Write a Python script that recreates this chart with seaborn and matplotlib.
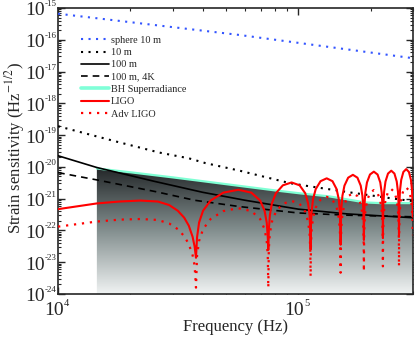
import numpy as np
import pandas as pd
import seaborn as sns
import matplotlib
matplotlib.use("Agg")
import matplotlib.pyplot as plt
from matplotlib.colors import LinearSegmentedColormap
from matplotlib.lines import Line2D
from matplotlib.ticker import LogLocator, NullFormatter

# frequencies in kHz, strain values as log10(h)
sphere_f = [10, 57, 300]
sphere_h = [-15.18, -15.85, -16.58]

ten_m_f = [10, 17.4, 26.4, 35, 41, 57, 92, 109, 163, 239, 300]
ten_m_h = [-18.72, -19.2, -19.55, -19.73, -19.88, -20.12, -20.51, -20.6, -20.8, -20.98, -21.08]

hundred_f = [10, 14.5, 25, 40, 60, 100, 160, 300]
hundred_h = [-19.65, -20.02, -20.45, -20.8, -21.05, -21.33, -21.48, -21.6]

cold_f = [10, 14.5, 25.5, 37, 57, 100, 160, 300]
cold_h = [-20.18, -20.41, -20.78, -21.05, -21.25, -21.45, -21.52, -21.57]

bh_f = [14.5, 20, 30, 41, 60, 80, 101, 135, 165, 190, 220, 300]
bh_h = [-20.05, -20.17, -20.33, -20.46, -20.62, -20.74, -20.83, -20.93, -21.04, -21.12, -21.14, -21.14]

# LIGO: first arch read directly, later arches from dip positions / peak / floor
ligo_first_f = [10, 14.5, 18, 22, 26, 29, 31.5, 33.5, 35, 36.3, 37]
ligo_first_h = [-21.33, -21.15, -21.09, -21.06, -21.09, -21.2, -21.38, -21.6, -21.85, -22.2, -22.5]
adv_first_h = [-21.88, -21.72, -21.66, -21.64, -21.67, -21.78, -21.96, -22.18, -22.43, -22.78, -23.1]

fsr_khz = 37.5
dip_khz = [37.5, 75, 112.5, 150, 187.5, 225, 262.5]
ligo_peak = [-20.72, -20.49, -20.36, -20.25, -20.15, -20.12, -20.07]
ligo_floor = [-22.86, -22.61, -22.6, -22.45, -22.3, -22.24, -22.19]
adv_peak = [-21.3, -21.07, -20.94, -20.83, -20.73, -20.7, -20.65]
adv_floor = [-23.8, -23.8, -23.45, -23.33, -23.29, -23.13, -23.13]
arch_t = [0.01, 0.03, 0.07, 0.15, 0.3, 0.5, 0.7, 0.85, 0.93, 0.97, 0.99]
arch_drop = [-1.5, -1.03, -0.66, -0.34, -0.09, 0, -0.09, -0.34, -0.66, -1.03, -1.5]

y_exps = list(range(-24, -14))
x_exps = [4, 5]


def build(first_f, first_h, peaks, floors):
    f = list(first_f)
    h = list(first_h)
    for d, p, fl in zip(dip_khz, peaks, floors):
        f.append(d)
        h.append(fl)
        for t, dr in zip(arch_t, arch_drop):
            f.append(d + t * fsr_khz)
            h.append(p + dr)
    return pd.DataFrame({"f": np.array(f) * 1e3, "h": 10 ** np.array(h)})


def frame(f, h):
    return pd.DataFrame({"f": np.array(f) * 1e3, "h": 10 ** np.array(h)})


sns.set_style("ticks")
plt.rcParams["font.family"] = ["Liberation Serif", "DejaVu Serif"]
plt.rcParams["mathtext.fontset"] = "stix"
plt.rcParams["xtick.direction"] = "in"
plt.rcParams["ytick.direction"] = "in"

fig = plt.figure(figsize=(4.15, 3.37), dpi=100)
ax = fig.add_axes([0.140, 0.1276, 0.855, 0.8487])
ax.set_xscale("log")
ax.set_yscale("log")
ax.set_xlim(1e4, 3e5)
ax.set_ylim(1e-24, 1e-15)
ax.set_autoscale_on(False)

# shaded region under the BH superradiance curve
cmap = LinearSegmentedColormap.from_list("shade", ["#f0f3f3", "#7f8b8b", "#1b1e20"])
grad = np.linspace(0, 1, 256).reshape(-1, 1)
im = ax.imshow(grad, extent=[0, 1, 0, 0.46], transform=ax.transAxes,
               aspect="auto", cmap=cmap, origin="lower", zorder=1)
bh = frame(bh_f, bh_h)
poly = ax.fill_between(bh["f"], bh["h"], 1e-25, facecolor="none", edgecolor="none")
im.set_clip_path(poly.get_paths()[0], transform=poly.get_transform())

sns.lineplot(data=bh, x="f", y="h", ax=ax, color="#7fffd4", lw=1.6, zorder=2)
sns.lineplot(data=frame(sphere_f, sphere_h), x="f", y="h", ax=ax, color="#3355ff", lw=1.5,
             linestyle=(0, (1, 2.6)), label="sphere 10 m", zorder=3)
sns.lineplot(data=frame(ten_m_f, ten_m_h), x="f", y="h", ax=ax, color="black", lw=1.5,
             linestyle=(0, (1, 2.6)), label="10 m", zorder=3)
sns.lineplot(data=frame(hundred_f, hundred_h), x="f", y="h", ax=ax, color="black", lw=1.2,
             label="100 m", zorder=3)
sns.lineplot(data=frame(cold_f, cold_h), x="f", y="h", ax=ax, color="black", lw=1.2,
             linestyle=(0, (4, 3)), label="100 m, 4K", zorder=3)
sns.lineplot(data=build(ligo_first_f, ligo_first_h, ligo_peak, ligo_floor), x="f", y="h", ax=ax,
             color="red", lw=1.5, sort=False, estimator=None, label="LIGO", zorder=4)
sns.lineplot(data=build(ligo_first_f, adv_first_h, adv_peak, adv_floor), x="f", y="h", ax=ax,
             color="red", lw=1.6, linestyle=(0, (1, 2.6)), sort=False, estimator=None,
             label="Adv LIGO", zorder=4)

handles, labels = ax.get_legend_handles_labels()
hmap = dict(zip(labels, handles))
hmap["BH Superradiance"] = Line2D([], [], color="#80ffd8", lw=2.6)
order = ["sphere 10 m", "10 m", "100 m", "100 m, 4K", "BH Superradiance", "LIGO", "Adv LIGO"]
ax.legend([hmap[k] for k in order], order, loc="upper left", bbox_to_anchor=(0.064, 0.903),
          frameon=False, fontsize=7.4, labelspacing=0.3, handlelength=2.7, handletextpad=0.2,
          borderpad=0, borderaxespad=0)

ax.xaxis.set_minor_locator(LogLocator(base=10, subs=np.arange(2, 10), numticks=100))
ax.yaxis.set_major_locator(LogLocator(base=10, numticks=20))
ax.yaxis.set_minor_locator(LogLocator(base=10, subs=np.arange(2, 10), numticks=100))
ax.yaxis.set_minor_formatter(NullFormatter())
ax.xaxis.set_minor_formatter(NullFormatter())
ax.tick_params(which="both", top=True, right=True, labelleft=False, labelbottom=False)
ax.tick_params(which="major", length=5, width=1)
ax.tick_params(which="minor", length=2.5, width=0.8)
for s in ax.spines.values():
    s.set_linewidth(1.2)

# power-of-ten tick labels with a small exponent, as in the original
ytr = ax.get_yaxis_transform()
for e in y_exps:
    ax.annotate("10", xy=(0, 10.0 ** e), xycoords=ytr, xytext=(-13, -3),
                textcoords="offset pixels", ha="right", va="center", fontsize=14)
    ax.annotate(str(e), xy=(0, 10.0 ** e), xycoords=ytr, xytext=(-13, 4),
                textcoords="offset pixels", ha="left", va="center", fontsize=6.5)
xtr = ax.get_xaxis_transform()
for e in x_exps:
    ax.annotate("10", xy=(10.0 ** e, 0), xycoords=xtr, xytext=(6, -17),
                textcoords="offset pixels", ha="right", va="center", fontsize=14)
    ax.annotate(str(e), xy=(10.0 ** e, 0), xycoords=xtr, xytext=(6, -10),
                textcoords="offset pixels", ha="left", va="center", fontsize=7.5)

ax.set_xlabel("Frequency (Hz)", fontsize=12, va="top")
ax.xaxis.set_label_coords(0.5, -0.088)
ax.set_ylabel("Strain sensitivity (Hz$^{-1/2}$)", fontsize=12)
ax.yaxis.set_label_coords(-0.087, 0.51)

fig.savefig("out.png", dpi=100)
